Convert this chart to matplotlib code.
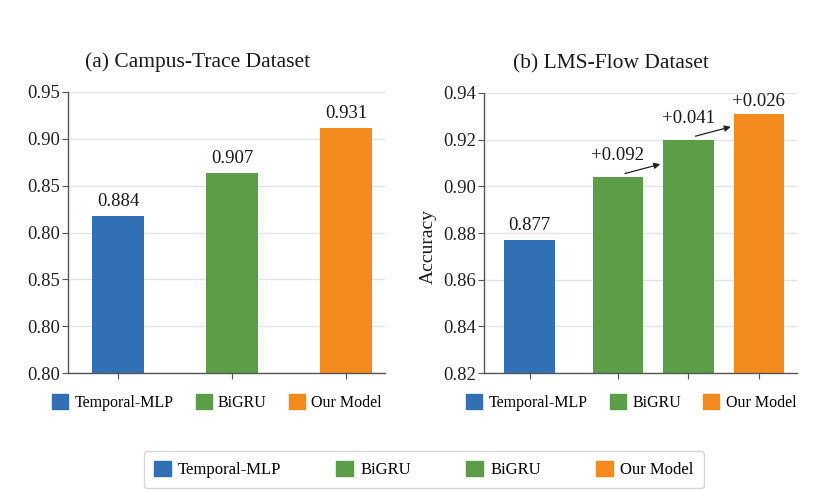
import matplotlib
matplotlib.use("Agg")
import matplotlib.pyplot as plt
from matplotlib.patches import Patch
import numpy as np

plt.rcParams["font.family"] = ["Liberation Serif", "DejaVu Serif"]

# ---- data -------------------------------------------------------------
models_a = ["Temporal-MLP", "BiGRU", "Our Model"]
acc_a = [0.884, 0.907, 0.931]
ytick_labels_a = ["0.80", "0.80", "0.85", "0.80", "0.85", "0.90", "0.95"]

models_b = ["Temporal-MLP", "BiGRU", "BiGRU", "Our Model"]
acc_b = [0.877, 0.904, 0.920, 0.931]
bar_text_b = ["0.877", "+0.092", "+0.041", "+0.026"]
ytick_labels_b = ["0.82", "0.84", "0.86", "0.88", "0.90", "0.92", "0.94"]

title_a = "(a) Campus-Trace Dataset"
title_b = "(b) LMS-Flow Dataset"
ylabel_b = "Accuracy"

# ---- style ------------------------------------------------------------
BLUE = "#3270b6"
GREEN = "#5c9e47"
ORANGE = "#f28a1e"
color_of = {"Temporal-MLP": BLUE, "BiGRU": GREEN, "Our Model": ORANGE}
SPINE = "#555555"
GRID = "#e4e4e4"
INK = "#1a1a1a"

fig = plt.figure(figsize=(8.26, 4.91), dpi=100)
W, H = 826, 491


def px_axes(x0, y0, x1, y1):
    return fig.add_axes([x0 / W, 1 - y1 / H, (x1 - x0) / W, (y1 - y0) / H])


def style_axes(ax):
    for s in ("top", "right"):
        ax.spines[s].set_visible(False)
    for s in ("left", "bottom"):
        ax.spines[s].set_color(SPINE)
        ax.spines[s].set_linewidth(1.0)
    ax.grid(axis="y", color=GRID, linewidth=1.0)
    ax.set_axisbelow(True)
    ax.tick_params(axis="y", length=4, color=SPINE, labelsize=13.5, pad=2,
                   labelcolor="#222222")
    ax.tick_params(axis="x", length=4, color=SPINE, labelbottom=False)


def small_legend(ax, names):
    ax.legend(handles=[Patch(color=color_of[m], label=m) for m in names],
              loc="upper center", bbox_to_anchor=(0.47, -0.025), ncol=3,
              frameon=False, fontsize=11.5, handlelength=1.0, handleheight=1.0,
              handletextpad=0.4, columnspacing=1.4)


# ---- panel (a) --------------------------------------------------------
ax1 = px_axes(68, 92, 385, 373)
xa = np.arange(len(models_a))
ax1.bar(xa, acc_a, width=0.46, color=[color_of[m] for m in models_a], zorder=2)
ax1.set_xlim(-0.44, 2.34)
ax1.set_ylim(0.80, 0.95)
ax1.set_yticks(np.linspace(0.80, 0.95, len(ytick_labels_a)))
ax1.set_yticklabels(ytick_labels_a)
ax1.set_xticks(xa)
style_axes(ax1)
for x, v in zip(xa, acc_a):
    ax1.annotate(f"{v:.3f}", (x, v), xytext=(0, 4), textcoords="offset points",
                 ha="center", va="bottom", fontsize=13.5, color=INK)
ax1.set_title(title_a, fontsize=15.5, pad=18, color=INK, x=0.41)
small_legend(ax1, models_a)

# ---- panel (b) --------------------------------------------------------
ax2 = px_axes(484, 93, 797, 373)
xb = np.array([0.0, 1.25, 2.25, 3.25])
ax2.bar(xb, acc_b, width=0.72, color=[color_of[m] for m in models_b], zorder=2)
ax2.set_xlim(-0.65, 3.79)
ax2.set_ylim(0.82, 0.94)
ax2.set_yticks(np.linspace(0.82, 0.94, len(ytick_labels_b)))
ax2.set_yticklabels(ytick_labels_b)
ax2.set_xticks(xb)
style_axes(ax2)
ax2.set_ylabel(ylabel_b, fontsize=14, color=INK)
ax2.yaxis.set_label_coords(-0.15, 0.45)
text_offsets = [4, 9, 9, 3]
for x, v, t, off in zip(xb, acc_b, bar_text_b, text_offsets):
    ax2.annotate(t, (x, v), xytext=(0, off), textcoords="offset points",
                 ha="center", va="bottom", fontsize=13.5, color=INK)
# gain arrows between consecutive improved models
for i in (1, 2):
    ax2.annotate("", xy=(xb[i + 1] - 0.40, acc_b[i] + 0.0055),
                 xytext=(xb[i] + 0.10, acc_b[i] + 0.0015),
                 arrowprops=dict(arrowstyle="-|>", color="#222222", lw=0.9,
                                 mutation_scale=9, shrinkA=0, shrinkB=0))
ax2.set_title(title_b, fontsize=15.5, pad=18, color=INK, x=0.405)
small_legend(ax2, list(dict.fromkeys(models_b)))

# ---- shared legend ----------------------------------------------------
fig.legend(handles=[Patch(color=color_of[m], label=m) for m in models_b],
           loc="center", bbox_to_anchor=(0.513, 0.043), ncol=4,
           frameon=True, fancybox=True, edgecolor="#cccccc", fontsize=12,
           handlelength=1.0, handleheight=1.0, handletextpad=0.45,
           columnspacing=3.3, borderpad=0.6, borderaxespad=0.0)

fig.savefig("out.png", dpi=100, facecolor="white")
